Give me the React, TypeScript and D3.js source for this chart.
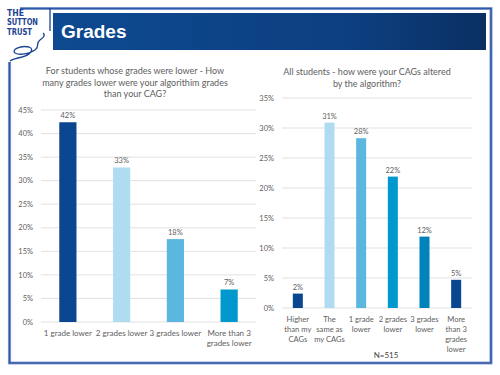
import React from "react";
import * as d3 from "d3";

const leftCategories = ["1 grade lower", "2 grades lower", "3 grades lower", "More than 3 grades lower"];
const leftLabelLines = [["1 grade lower"], ["2 grades lower"], ["3 grades lower"], ["More than 3", "grades lower"]];
const leftValues = [42.4, 32.8, 17.6, 6.9];
const leftValueLabels = ["42%", "33%", "18%", "7%"];
const leftColors = ["#0b4690", "#b0dcf1", "#5bb7df", "#0098cd"];
const leftTicks = [0, 5, 10, 15, 20, 25, 30, 35, 40, 45];
const leftTitle = ["For students whose grades were lower - How", "many grades lower were your algorithim grades", "than your CAG?"];

const rightCategories = ["Higher than my CAGs", "The same as my CAGs", "1 grade lower", "2 grades lower", "3 grades lower", "More than 3 grades lower"];
const rightLabelLines = [["Higher", "than my", "CAGs"], ["The", "same as", "my CAGs"], ["1 grade", "lower"], ["2 grades", "lower"], ["3 grades", "lower"], ["More", "than 3", "grades", "lower"]];
const rightValues = [2.4, 30.9, 28.3, 21.9, 11.9, 4.7];
const rightValueLabels = ["2%", "31%", "28%", "22%", "12%", "5%"];
const rightColors = ["#0b4690", "#b0dcf1", "#5bb7df", "#0098cd", "#0082bb", "#0b4690"];
const rightTicks = [0, 5, 10, 15, 20, 25, 30, 35];
const rightTitle = ["All students - how were your CAGs altered", "by the algorithm?"];

const FONT = "Lato, 'Open Sans', sans-serif";
const GRAY = "#606060";

type ChartProps = {
  cats: string[];
  lines: string[][];
  values: number[];
  labels: string[];
  colors: string[];
  ticks: number[];
  title: string[];
  x0: number; x1: number; y0: number; y1: number; maxV: number;
  tickX: number; titleX: number; titleY: number; catY: number; catSize: number;
};

function BarChart(p: ChartProps) {
  const n = p.cats.length;
  const x = d3.scaleBand<string>().domain(p.cats).range([p.x0, p.x1])
    .paddingInner(n === 4 ? 0.68 : 0.684).paddingOuter(n === 4 ? 0.34 : 0.342);
  const y = d3.scaleLinear().domain([0, p.maxV]).range([p.y0, p.y1]);
  return (
    <g fontFamily={FONT}>
      {p.title.map((t, i) => (
        <text key={i} x={p.titleX} y={p.titleY + i * 11.5} textAnchor="middle" fontSize={9} fill={GRAY}>{t}</text>
      ))}
      {p.ticks.map((t) => (
        <g key={t}>
          <line x1={p.x0} x2={p.x1} y1={y(t)} y2={y(t)} stroke="#d9d9d9" strokeWidth={0.8} />
          <text x={p.tickX} y={y(t)} dy="0.35em" textAnchor="end" fontSize={7.5} fill={GRAY}>{t}%</text>
        </g>
      ))}
      {p.cats.map((c, i) => (
        <g key={c}>
          <rect x={x(c)} y={y(p.values[i])} width={x.bandwidth()} height={y(0) - y(p.values[i])} fill={p.colors[i]} />
          <text x={(x(c) as number) + x.bandwidth() / 2} y={y(p.values[i]) - 4} textAnchor="middle" fontSize={7.5} fill={GRAY}>{p.labels[i]}</text>
          {p.lines[i].map((l, j) => (
            <text key={j} x={(x(c) as number) + x.bandwidth() / 2} y={p.catY + j * 10} textAnchor="middle" fontSize={p.catSize} fill={GRAY}>{l}</text>
          ))}
        </g>
      ))}
    </g>
  );
}

export default function App() {
  return (
    <svg width={500} height={375} style={{ position: "absolute", left: 0, top: 0, background: "#fff" }}>
      <defs>
        <linearGradient id="hdr" x1="0" x2="1" y1="0" y2="0">
          <stop offset="0" stopColor="#0e4a91" />
          <stop offset="0.7" stopColor="#0c3f80" />
          <stop offset="1" stopColor="#0b2f62" />
        </linearGradient>
      </defs>
      {/* frame */}
      <path d="M20,8.5 H491 V363 H9.5 V62" fill="none" stroke="#8fa6d6" strokeWidth={3.2} />
      <path d="M20,8.5 H491 V363 H9.5 V62" fill="none" stroke="#2f58a8" strokeWidth={1.6} />
      {/* header */}
      <rect x={53} y={13} width={433} height={37} fill="url(#hdr)" />
      <text x={61} y={38} fill="#fff" fontFamily="'Liberation Sans', Arial, sans-serif" fontWeight="bold" fontSize={19}>Grades</text>
      {/* logo */}
      <g fill="#1d4593" fontFamily="'DejaVu Sans Condensed', 'DejaVu Sans', sans-serif" fontWeight="bold" fontSize={9.5}>
        <text x={7} y={15.5} textLength={17} lengthAdjust="spacingAndGlyphs">THE</text>
        <text x={7} y={25} textLength={31} lengthAdjust="spacingAndGlyphs">SUTTON</text>
        <text x={7} y={34.5} textLength={25} lengthAdjust="spacingAndGlyphs">TRUST</text>
      </g>
      <path d="M50,8 V31 M43,33 C46,35 43,38 40,40 C36,43 39,46 36,49 C32,53 20,56 15,53 C11,50 20,45 29,47 C35,49 30,55 22,57 C17,58 13,59 10,61"
        fill="none" stroke="#1d4593" strokeWidth={1.3} />
      <BarChart cats={leftCategories} lines={leftLabelLines} values={leftValues} labels={leftValueLabels}
        colors={leftColors} ticks={leftTicks} title={leftTitle}
        x0={41} x1={256} y0={322} y1={110} maxV={45} tickX={33} titleX={135} titleY={74} catY={336} catSize={8} />
      <BarChart cats={rightCategories} lines={rightLabelLines} values={rightValues} labels={rightValueLabels}
        colors={rightColors} ticks={rightTicks} title={rightTitle}
        x0={282} x1={472} y0={308} y1={98} maxV={35} tickX={274} titleX={367} titleY={75} catY={322} catSize={7.6} />
      <text x={386} y={358} textAnchor="middle" fontFamily={FONT} fontSize={8} fill="#404040">N=515</text>
    </svg>
  );
}
